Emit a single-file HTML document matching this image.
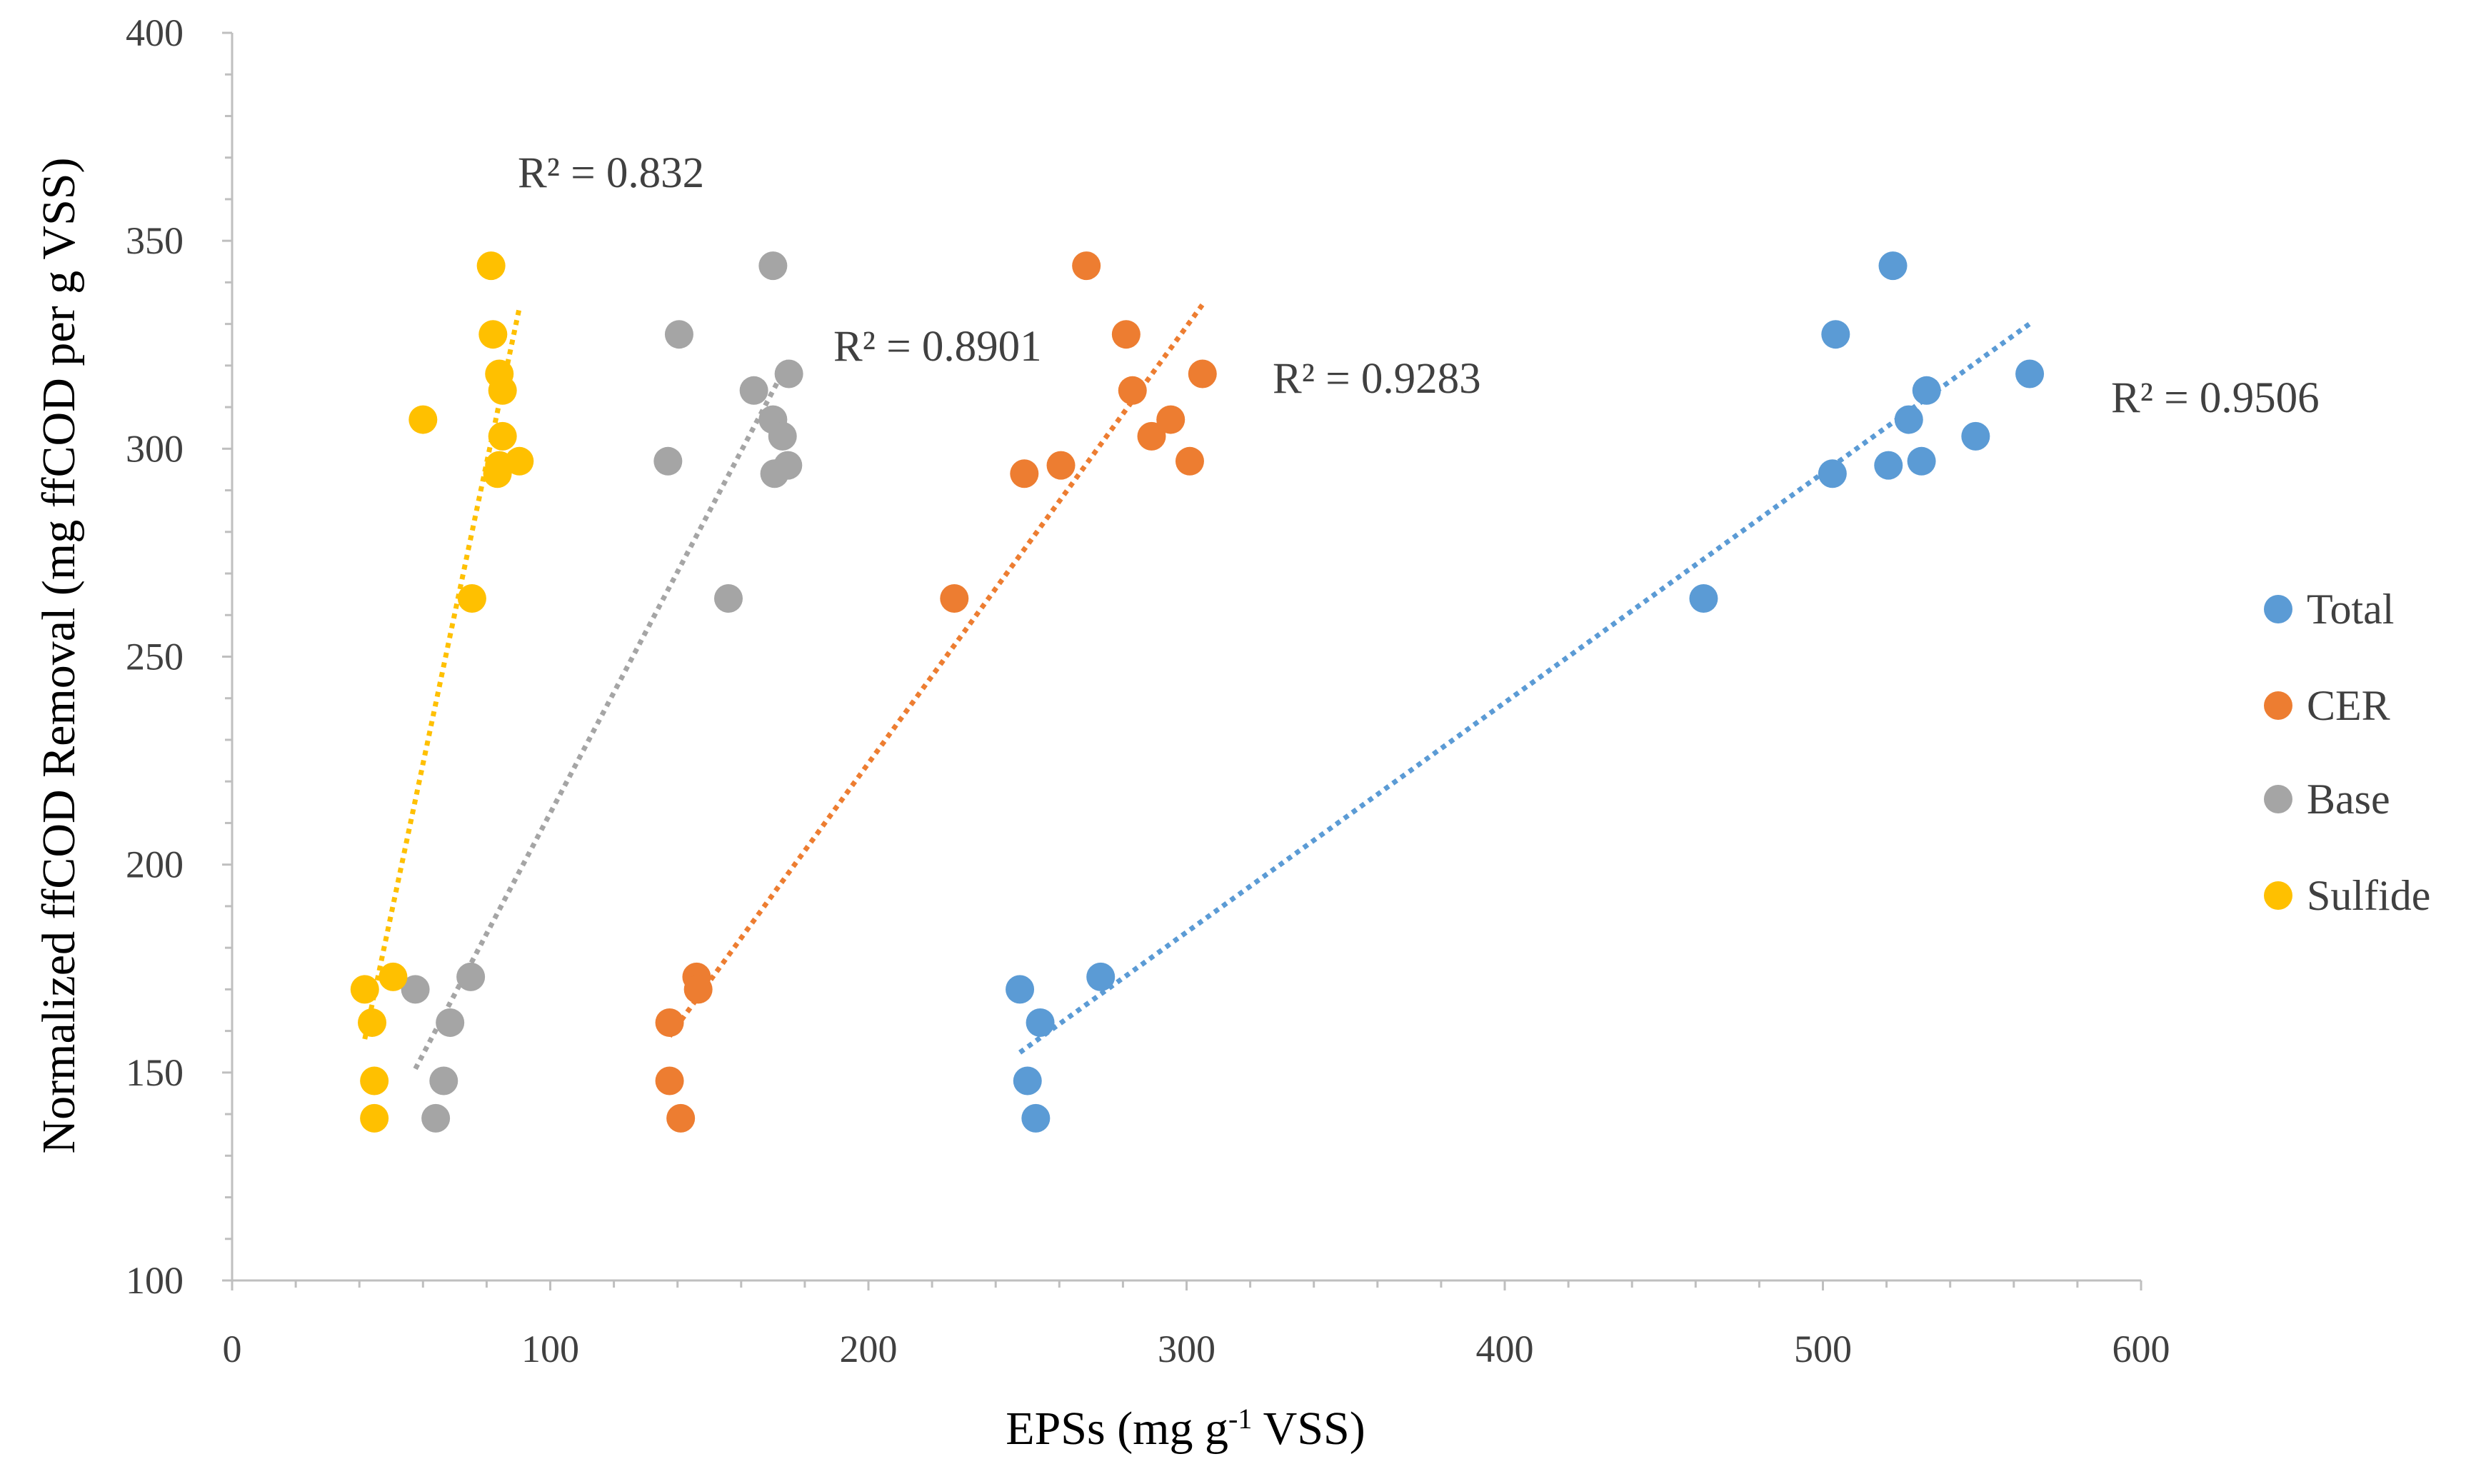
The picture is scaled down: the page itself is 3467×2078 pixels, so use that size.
<!DOCTYPE html>
<html><head><meta charset="utf-8"><style>
html,body{margin:0;padding:0;background:#fff;}
svg{display:block;font-family:"Liberation Serif",serif;}
</style></head><body>
<svg id="chart" width="3467" height="2078" viewBox="0 0 3467 2078" xmlns="http://www.w3.org/2000/svg">
<rect width="3467" height="2078" fill="#fff"/>
<g id="axes"></g>
<g id="trends"></g>
<g id="points"></g>
<g id="labels"></g>
</svg>
<script>
const seriesNames = ["Total","CER","Base","Sulfide"];
const seriesColors = ["#5b9bd5","#ed7d31","#a5a5a5","#ffc000"];
const totalX = [247.6,254,250,252.6,273,462.5,503,504,520.6,531,527,532.6,522,548,565];
const totalY = [170,162,148,139,173,264,294,327.5,296,297,307,314,344,303,318];
const cerX = [137.5,137.5,141,146,146.5,227,249,260.5,268.5,281,283,289,295,301,305];
const cerY = [162,148,139,173,170,264,294,296,344,327.5,314,303,307,297,318];
const baseX = [57.6,68.5,66.5,64,75,156,137,140.5,164,170,170,170.5,173,174.7,175];
const baseY = [170,162,148,139,173,264,297,327.5,314,344,307,294,303,296,318];
const sulfideX = [41.7,44,44.7,44.7,50.6,75.4,60,81.4,82,84,85,85,83.4,84,90.3];
const sulfideY = [170,162,148,139,173,264,307,344,327.5,318,314,303,294,296,297];
const r2Labels = ["R² = 0.9506","R² = 0.9283","R² = 0.8901","R² = 0.832"];
const xTicks = [0,100,200,300,400,500,600];
const yTicks = [100,150,200,250,300,350,400];

const X0=325,X1=2998,Y0=1793,Y1=46;
const xs=v=>X0+(v-0)/600*(X1-X0);
const ys=v=>Y0-(v-100)/300*(Y0-Y1);
const NS="http://www.w3.org/2000/svg";
function mk(tag,attrs,parent,text){const e=document.createElementNS(NS,tag);for(const k in attrs)e.setAttribute(k,attrs[k]);if(text!==undefined)e.textContent=text;parent.appendChild(e);return e;}
const axes=document.getElementById('axes');
const ax=mk('line',{x1:X0,y1:Y0,x2:X1,y2:Y0,stroke:'#bfbfbf','stroke-width':3},axes);


const ay=mk('line',{x1:X0,y1:Y0,x2:X0,y2:Y1,stroke:'#bfbfbf','stroke-width':3},axes);


for(let v=0;v<=600;v+=20){const big=v%100===0;mk('line',{x1:xs(v),y1:Y0,x2:xs(v),y2:Y0+(big?14:10),stroke:'#bfbfbf','stroke-width':3},axes);}
for(let v=100;v<=400;v+=10){const big=v%50===0;mk('line',{x1:X0-(big?14:10),y1:ys(v),x2:X0,y2:ys(v),stroke:'#bfbfbf','stroke-width':3},axes);}
xTicks.forEach(v=>{const t=mk('text',{x:xs(v),y:1907,'font-size':54,'text-anchor':'middle',fill:'#404040'},axes,v);

});
yTicks.forEach(v=>{const t=mk('text',{x:257,y:ys(v)+18,'font-size':54,'text-anchor':'end',fill:'#404040'},axes,v);

});
const xt=mk('text',{x:1660,y:2022,'font-size':66,'text-anchor':'middle',fill:'#000'},axes);
xt.innerHTML='EPSs (mg g<tspan baseline-shift="super" font-size="40">-1</tspan> VSS)';


const yt=mk('text',{x:0,y:0,'font-size':66,'text-anchor':'middle',fill:'#000',transform:'translate(104,918) rotate(-90)'},axes,'Normalized ffCOD Removal (mg ffCOD per g VSS)');



const allX=[totalX,cerX,baseX,sulfideX], allY=[totalY,cerY,baseY,sulfideY];
const trends=document.getElementById('trends'), pts=document.getElementById('points'), labels=document.getElementById('labels');
allX.forEach((xa,i)=>{
  const ya=allY[i], n=xa.length;
  const mx=xa.reduce((a,b)=>a+b)/n, my=ya.reduce((a,b)=>a+b)/n;
  let sxy=0,sxx=0;xa.forEach((x,j)=>{sxy+=(x-mx)*(ya[j]-my);sxx+=(x-mx)*(x-mx);});
  const b=sxy/sxx,a=my-b*mx, lo=Math.min(...xa), hi=Math.max(...xa);
  const l=mk('line',{x1:xs(lo),y1:ys(a+b*lo),x2:xs(hi),y2:ys(a+b*hi),stroke:seriesColors[i],'stroke-width':7,'stroke-dasharray':'7 7'},trends);
  
  
  xa.forEach((x,j)=>{const c=mk('circle',{cx:xs(x),cy:ys(ya[j]),r:20,fill:seriesColors[i]},pts);
    
    });
});
const r2Pos=[[2956,577],[1782,550],[1167,505],[725,262]];
r2Labels.forEach((s,i)=>{const t=mk('text',{x:r2Pos[i][0],y:r2Pos[i][1],'font-size':61,fill:'#404040'},labels,s);
  
  });
const legY=[853,988,1119,1254];
seriesNames.forEach((s,i)=>{
  const g=mk('g',{},labels);
  
  
  mk('circle',{cx:3190,cy:legY[i],r:20,fill:seriesColors[i]},g);
  mk('text',{x:3230,y:legY[i]+20,'font-size':60,fill:'#404040'},g,s);
});
</script>
</body></html>
